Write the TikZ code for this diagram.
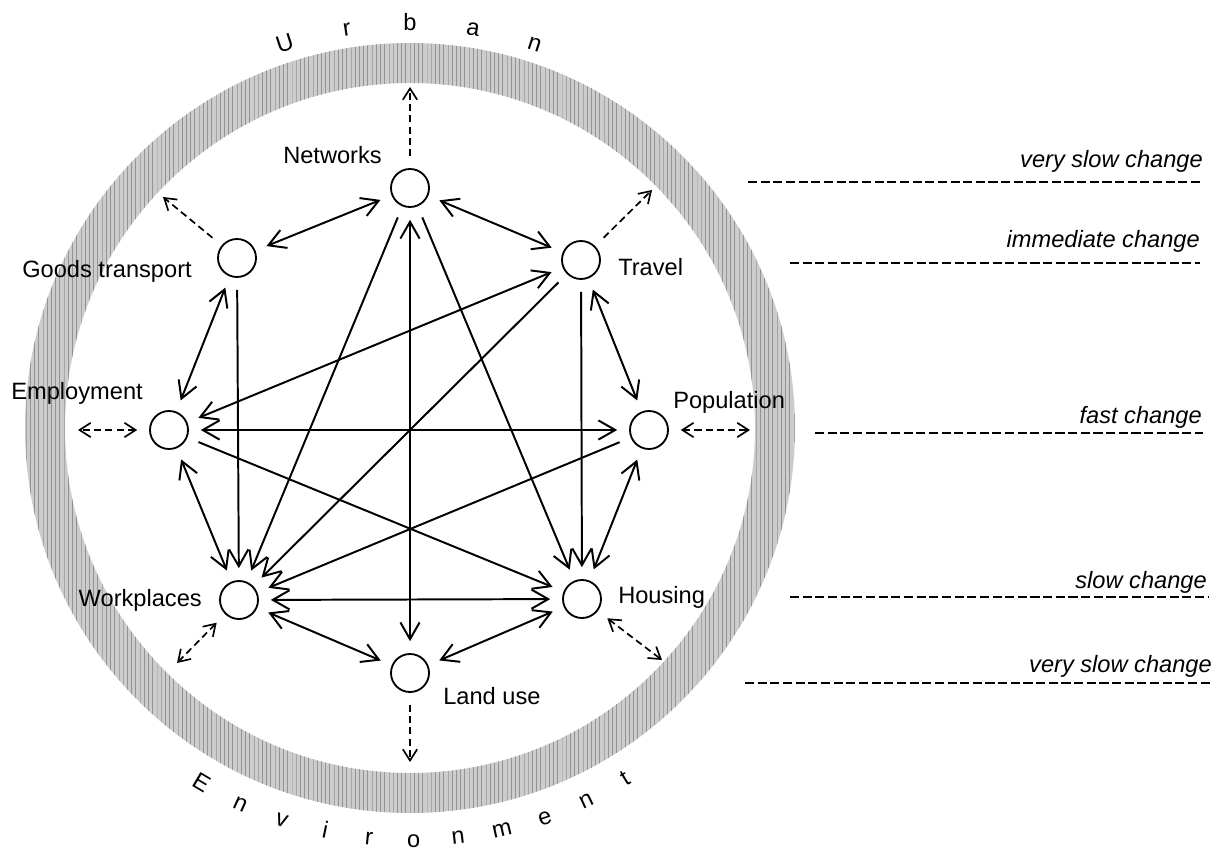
\documentclass[tikz,border=0pt]{standalone}
\usepackage{fontspec}
\setmainfont{Liberation Sans}
\usetikzlibrary{arrows.meta,patterns}
\begin{document}
\begin{tikzpicture}[x=0.025cm,y=0.025cm,
  main node/.style={circle,draw,line width=1.3pt,minimum size=0.95cm,inner sep=0pt,outer sep=0.32cm},
  text node/.style={font=\fontsize{16.8}{20}\selectfont,inner sep=0pt},
  ring letter/.style={font=\fontsize{16.8}{20}\selectfont,inner sep=0pt,anchor=base},
  scale line/.style={line width=1.4pt,dash pattern=on 6.5pt off 2.5pt},
  env arrow/.style={line width=1.2pt,dash pattern=on 5pt off 3pt,>={Straight Barb[length=2.8mm,width=3.6mm]}},
  >={Straight Barb[length=4.2mm,width=4.8mm]}]
  \useasboundingbox (0,0) rectangle (1221,851);
  \coordinate (c) at (410,423);
  \fill[gray!40,even odd rule] (c) circle (385) (c) circle (345);
  \fill[pattern=vertical lines,pattern color=gray!85,even odd rule] (c) circle (385) (c) circle (345);

  \foreach \ch [count=\i, evaluate=\i as \a using 117-9*\i] in {U,r,b,a,n}
    \node[ring letter,rotate=\a-90] (u\i) at ([shift={(\a:397)}]c) {\ch};
  \foreach \ch [count=\i, evaluate=\i as \a using 233.3+6.2*\i] in {E,n,v,i,r,o,n,m,e,n,t}
    \node[ring letter,rotate=\a+90] (v\i) at ([shift={(\a:419)}]c) {\ch};

  \node[main node] (1) at (410,663) {};
  \node[main node] (2) at (581,591) {};
  \node[main node] (3) at (649,421) {};
  \node[main node] (4) at (582,252) {};
  \node[main node] (5) at (410,178) {};
  \node[main node] (6) at (239,251) {};
  \node[main node] (7) at (169,421) {};
  \node[main node] (8) at (237,593) {};

  \node[text node,anchor=base east] (l1) at (382,687) {Networks};
  \node[text node,anchor=base west] (l2) at (618,575) {Travel};
  \node[text node,anchor=base west] (l3) at (673,443) {Population};
  \node[text node,anchor=base west] (l4) at (618,248) {Housing};
  \node[text node,anchor=base west] (l5) at (443,147) {Land use};
  \node[text node,anchor=base east] (l6) at (202,245) {Workplaces};
  \node[text node,anchor=base east] (l7) at (143,452) {Employment};
  \node[text node,anchor=base east] (l8) at (192,573) {Goods transport};

  \path[line width=1.4pt]
    (1) edge[<->] (8)
    (1) edge[<->] (2)
    (1) edge[<->] (5)
    (8) edge[<->] (7)
    (7) edge[<->] (2)
    (7) edge[<->] (3)
    (7) edge[<->] (6)
    (2) edge[<->] (3)
    (3) edge[<->] (4)
    (6) edge[<->] (4)
    (6) edge[<->] (5)
    (5) edge[<->] (4);
  \path[->,line width=1.4pt]
    (1) edge (6)
    (1) edge (4)
    (8) edge (6)
    (2) edge (6)
    (2) edge (4)
    (7) edge (4)
    (3) edge (6);

  \coordinate (e1) at (410,764);
  \coordinate (e2) at (652,661);
  \coordinate (e3) at (750,421);
  \coordinate (e4) at (662,191);
  \coordinate (e5) at (410,89);
  \coordinate (e6) at (177,188);
  \coordinate (e7) at (78,421);
  \coordinate (e8) at (163,654);
  \path[env arrow]
    (1) edge[->] (e1)
    (2) edge[->] (e2)
    (3) edge[<->] (e3)
    (4) edge[<->] (e4)
    (5) edge[->] (e5)
    (6) edge[<->] (e6)
    (7) edge[<->] (e7)
    (8) edge[->] (e8);

  \node[text node,anchor=base east] (s1) at (1203,683) {\itshape very slow change};
  \node[text node,anchor=base east] (s2) at (1200,603) {\itshape immediate change};
  \node[text node,anchor=base east] (s3) at (1202,428) {\itshape fast change};
  \node[text node,anchor=base east] (s4) at (1207,263) {\itshape slow change};
  \node[text node,anchor=base east] (s5) at (1212,179) {\itshape very slow change};
  \draw[scale line] (748,669) -- (1203,669);
  \draw[scale line] (790,588) -- (1200,588);
  \draw[scale line] (815,418) -- (1203,418);
  \draw[scale line] (790,254) -- (1208,254);
  \draw[scale line] (745,168) -- (1210,168);
\end{tikzpicture}
\end{document}
